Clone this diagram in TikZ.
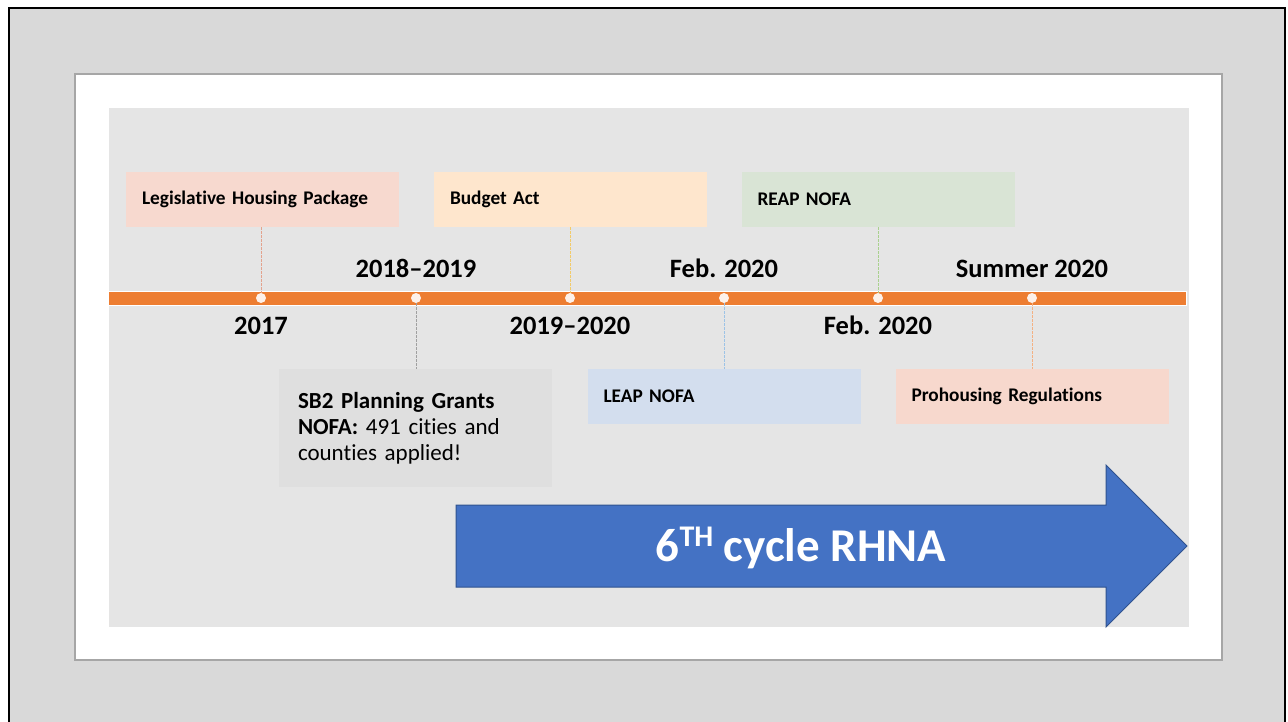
\documentclass[tikz,border=0pt]{standalone}
\usepackage{fontspec}
\setmainfont{Carlito}[RawFeature=-liga]
\definecolor{outerbg}{HTML}{D9D9D9}
\definecolor{panelline}{HTML}{A6A6A6}
\definecolor{innerbg}{HTML}{E5E5E5}
\definecolor{barorange}{HTML}{ED7D31}
\definecolor{dotfill}{HTML}{FDF1EA}
\definecolor{legfill}{HTML}{F7D9CF}
\definecolor{budfill}{HTML}{FEE6CD}
\definecolor{reapfill}{HTML}{D9E4D5}
\definecolor{sbfill}{HTML}{DFDFDF}
\definecolor{leapfill}{HTML}{D3DEEE}
\definecolor{profill}{HTML}{F7D8CD}
\definecolor{legline}{HTML}{E3A38E}
\definecolor{budline}{HTML}{F2CB6A}
\definecolor{reapline}{HTML}{A9D18E}
\definecolor{sbline}{HTML}{A0A0A0}
\definecolor{leapline}{HTML}{9DC3E6}
\definecolor{proline}{HTML}{F4B183}
\definecolor{arrowfill}{HTML}{4472C4}
\definecolor{arrowline}{HTML}{2F528F}
\begin{document}
\begin{tikzpicture}[x=1pt,y=-1pt,
  evbox/.style={rectangle, inner xsep=16pt, inner ysep=0pt, text width=241pt,
    minimum height=55pt, align=left, font=\bfseries\fontsize{19.3}{22}\selectfont},
  yearlbl/.style={anchor=base, inner sep=0pt, font=\bfseries\fontsize{26.5}{30}\selectfont},
  tdot/.style={circle, fill=dotfill, inner sep=0pt, minimum size=10pt},
  conn/.style={line width=0.8pt, dash pattern=on 2.5pt off 1.5pt}]
\useasboundingbox (0,0) rectangle (1288,721);
% outer frame
\draw[fill=outerbg, line width=2.5pt] (9,8) rectangle (1285,740);
% white panel
\draw[fill=white, draw=panelline, line width=1.2pt] (75,74) rectangle (1222,660);
% inner grey panel
\fill[innerbg] (109,108) rectangle (1189,627);
% boxes
\node[evbox, fill=legfill] (leg) at (262.5,199.5) {Legislative Housing Package};
\node[evbox, fill=budfill] (bud) at (570.5,199.5) {Budget Act};
\node[evbox, fill=reapfill] (reap) at (878,199.5) {REAP NOFA};
\node[evbox, fill=leapfill] (leap) at (724,396.5) {LEAP NOFA};
\node[evbox, fill=profill] (pro) at (1032,396.5) {Prohousing Regulations};
\node[rectangle, fill=sbfill, inner xsep=19pt, inner ysep=0pt, text width=235pt,
  minimum height=118pt, align=left, font=\fontsize{23}{26}\selectfont] (sb) at (415.5,428)
  {\textbf{SB2 Planning Grants}\\\textbf{NOFA:} 491 cities and\\counties applied!};
% timeline bar
\draw[fill=barorange, draw=white, line width=1pt] (108,291) rectangle (1186,305);
% dots
\node[tdot] (d1) at (261,298) {};
\node[tdot] (d2) at (416,298) {};
\node[tdot] (d3) at (570,298) {};
\node[tdot] (d4) at (724,298) {};
\node[tdot] (d5) at (878,298) {};
\node[tdot] (d6) at (1032,298) {};
% connectors
\draw[conn, draw=legline] (d1 |- leg.south) -- (d1.north);
\draw[conn, draw=budline] (d3 |- bud.south) -- (d3.north);
\draw[conn, draw=reapline] (d5 |- reap.south) -- (d5.north);
\draw[conn, draw=sbline] (d2.south) -- (d2 |- sb.north);
\draw[conn, draw=leapline] (d4.south) -- (d4 |- leap.north);
\draw[conn, draw=proline] (d6.south) -- (d6 |- pro.north);
% year labels
\node[yearlbl] (y1) at (261,334) {2017};
\node[yearlbl] (y2) at (416,277) {2018--2019};
\node[yearlbl] (y3) at (570,334) {2019--2020};
\node[yearlbl] (y4) at (724,277) {Feb. 2020};
\node[yearlbl] (y5) at (878,334) {Feb. 2020};
\node[yearlbl] (y6) at (1032,277) {Summer 2020};
% big arrow
\draw[fill=arrowfill, draw=arrowline, line width=1pt]
  (456,505) -- (1106,505) -- (1106,465) -- (1187,546) -- (1106,627) -- (1106,587) -- (456,587) -- cycle;
\node[anchor=base, inner sep=0pt, text=white, font=\bfseries\fontsize{47}{52}\selectfont] (rhna) at (801,561)
  {6\raisebox{0.62ex}{\fontsize{30}{32}\selectfont TH} cycle RHNA};
\end{tikzpicture}
\end{document}
